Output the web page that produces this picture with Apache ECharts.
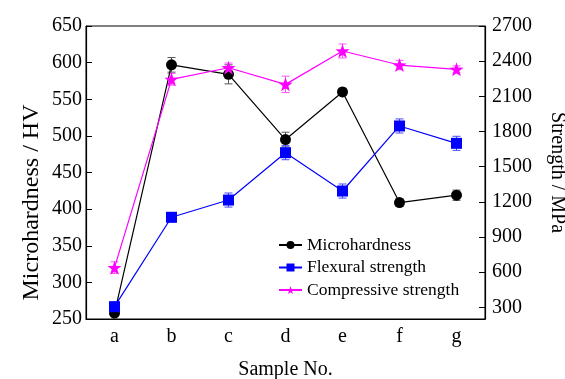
<!DOCTYPE html>
<html>
<head>
<meta charset="utf-8">
<script src="https://cdn.jsdelivr.net/npm/echarts@6/dist/echarts.min.js"></script>
<style>
  html, body { margin: 0; padding: 0; background: #fff; }
  #chart-container { width: 565px; height: 379px; }
</style>
</head>
<body>
<div id="chart-container"></div>
<script>
'use strict';

const samples = ['a', 'b', 'c', 'd', 'e', 'f', 'g'];

const microhardness = [258, 597, 584, 495, 560, 409, 419];
const microhardnessErr = [4, 10, 13, 10, 5, 5, 7];

const flexural = [305, 1068, 1215, 1619, 1292, 1847, 1699];
const flexuralErr = [40, 40, 60, 60, 60, 60, 60];

const compressive = [638, 2245, 2344, 2202, 2487, 2367, 2330];
const compressiveErr = [50, 50, 40, 70, 60, 40, 30];

const strengthTicks = [300, 600, 900, 1200, 1500, 1800, 2100, 2400, 2700];

const font = '"Liberation Serif", "Times New Roman", serif';
const starPath = 'path://M0,-10L2.35,-3.24L9.51,-3.09L3.8,1.24L5.88,8.09L0,4L-5.88,8.09L-3.8,1.24L-9.51,-3.09L-2.35,-3.24Z';

function errorSeries(values, errs, color, axisIndex) {
    return {
        type: 'custom',
        yAxisIndex: axisIndex,
        silent: true,
        z: 1,
        data: values.map((v, i) => [i, v, errs[i]]),
        renderItem: function (params, api) {
            const x = api.value(0);
            const hi = api.coord([x, api.value(1) + api.value(2)]);
            const lo = api.coord([x, api.value(1) - api.value(2)]);
            const w = 4;
            const style = { stroke: color, lineWidth: 1 };
            return {
                type: 'group',
                children: [
                    { type: 'line', shape: { x1: hi[0], y1: hi[1], x2: lo[0], y2: lo[1] }, style: style },
                    { type: 'line', shape: { x1: hi[0] - w, y1: hi[1], x2: hi[0] + w, y2: hi[1] }, style: style },
                    { type: 'line', shape: { x1: lo[0] - w, y1: lo[1], x2: lo[0] + w, y2: lo[1] }, style: style }
                ]
            };
        }
    };
}

const myChart = echarts.init(document.getElementById('chart-container'), null, { renderer: 'canvas' });

const option = {
    backgroundColor: '#fff',
    animation: false,
    textStyle: { fontFamily: font, color: '#000' },
    grid: {
        left: 86,
        right: 80,
        top: 26,
        bottom: 60,
        outerBoundsMode: 'none',
        containLabel: false,
        show: true,
        borderColor: '#000',
        borderWidth: 1
    },
    legend: {
        data: ['Microhardness', 'Flexural strength', 'Compressive strength'],
        orient: 'vertical',
        left: 273,
        top: 231,
        itemWidth: 23,
        itemHeight: 10,
        itemGap: 4.5,
        textStyle: { fontFamily: font, fontSize: 17.5, color: '#000' }
    },
    xAxis: {
        type: 'category',
        data: samples,
        boundaryGap: true,
        name: 'Sample No.',
        nameLocation: 'middle',
        nameGap: 41,
        nameTextStyle: { fontFamily: font, fontSize: 20, color: '#000' },
        axisLine: { lineStyle: { color: '#000', width: 1.2 } },
        axisTick: { inside: true, alignWithLabel: true, length: 6, lineStyle: { color: '#000' } },
        axisLabel: { fontFamily: font, fontSize: 20, color: '#000', margin: 8 },
        splitLine: { show: false }
    },
    yAxis: [
        {
            type: 'value',
            min: 250,
            max: 650,
            interval: 50,
            name: 'Microhardness / HV',
            nameLocation: 'middle',
            nameGap: 42,
            nameMoveOverlap: false,
            nameTextStyle: { fontFamily: font, fontSize: 24, color: '#000', padding: [0, 60, 0, 0] },
            axisLine: { show: true, lineStyle: { color: '#000', width: 1.2 } },
            axisTick: { show: true, inside: true, length: 6, lineStyle: { color: '#000' } },
            axisLabel: { fontFamily: font, fontSize: 20, color: '#000', margin: 4 },
            splitLine: { show: false }
        },
        {
            type: 'value',
            min: 200,
            max: 2700,
            position: 'right',
            name: 'Strength / MPa',
            nameLocation: 'middle',
            nameGap: 62,
            nameRotate: -90,
            nameTextStyle: { fontFamily: font, fontSize: 20, color: '#000' },
            axisLine: { show: true, lineStyle: { color: '#000', width: 1.2 } },
            axisTick: { show: true, inside: true, length: 6, customValues: strengthTicks, lineStyle: { color: '#000' } },
            axisLabel: {
                fontFamily: font,
                fontSize: 20,
                color: '#000',
                margin: 7,
                customValues: strengthTicks,
                formatter: (v) => String(v)
            },
            splitLine: { show: false }
        }
    ],
    series: [
        errorSeries(microhardness, microhardnessErr, '#555', 0),
        errorSeries(flexural, flexuralErr, '#4a4aff', 1),
        errorSeries(compressive, compressiveErr, '#ff55ff', 1),
        {
            name: 'Microhardness',
            type: 'line',
            yAxisIndex: 0,
            data: microhardness,
            symbol: 'circle',
            symbolSize: 11,
            z: 3,
            itemStyle: { color: '#000' },
            lineStyle: { color: '#000', width: 1.2 }
        },
        {
            name: 'Flexural strength',
            type: 'line',
            yAxisIndex: 1,
            data: flexural,
            symbol: 'rect',
            symbolSize: 11,
            z: 3,
            itemStyle: { color: '#0000ff' },
            lineStyle: { color: '#0000ff', width: 1.2 }
        },
        {
            name: 'Compressive strength',
            type: 'line',
            yAxisIndex: 1,
            data: compressive,
            symbol: starPath,
            symbolSize: 14,
            z: 3,
            itemStyle: { color: '#ff00ff' },
            lineStyle: { color: '#ff00ff', width: 1.2 }
        }
    ]
};

myChart.setOption(option);
window.addEventListener('resize', myChart.resize);
</script>
</body>
</html>
